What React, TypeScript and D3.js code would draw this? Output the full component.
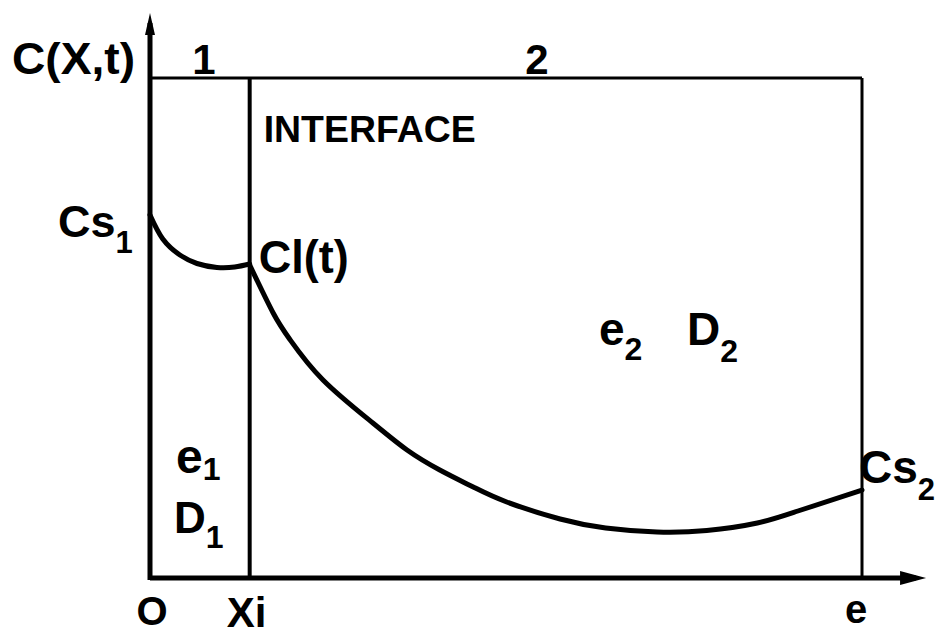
import React from "react";
import * as d3 from "d3";

// diffusion profile C(X,t) across two layers
// x: 0 = O, 100 = e ; y: 0 = axis, 100 = top of box
const X_MAX = 100;
const XI = 14;
const Y_TOP = 100;
const Y_ARROW = 113;
const X_ARROW = 109;

const layer1Profile = [
  [0, 72.6],
  [1.8, 67.8],
  [4.2, 64.6],
  [6.6, 62.9],
  [9.4, 62.1],
  [11.9, 62.2],
  [14, 62.8]
];

const layer2Profile = [
  [14, 62.6],
  [17.3, 53],
  [19.7, 47.6],
  [24.3, 39.6],
  [31.3, 31],
  [36.1, 25.6],
  [40.7, 21.6],
  [45.4, 18.2],
  [50.1, 15.2],
  [57.6, 11.8],
  [64, 10],
  [71.2, 9.2],
  [78.2, 9.5],
  [85.3, 11],
  [91, 13.4],
  [100, 17.6]
];

const layerLabels = ["1", "2"];
const xTickLabels = ["O", "Xi", "e"];

const width = 935;
const height = 638;
const font = "'Liberation Sans', Arial, Helvetica, sans-serif";

const x = d3.scaleLinear().domain([0, X_MAX]).range([150, 862]);
const y = d3.scaleLinear().domain([0, Y_TOP]).range([578, 78]);

const line = d3
  .line<number[]>()
  .x(d => x(d[0]))
  .y(d => y(d[1]))
  .curve(d3.curveNatural);

export default function App() {
  const x0 = x(0);
  const xi = x(XI);
  const xe = x(X_MAX);
  const y0 = y(0);
  const yTop = y(Y_TOP);
  const yTip = y(Y_ARROW);
  const xTip = x(X_ARROW);

  const txt = { fontFamily: font, fontWeight: 700, fill: "#000" } as const;

  return (
    <svg
      width={width}
      height={height}
      style={{ position: "absolute", left: 0, top: 0, background: "#fff" }}
    >
      {/* box */}
      <g stroke="#000" fill="none">
        <line x1={x0} y1={yTop} x2={xe} y2={yTop} strokeWidth={3} />
        <line x1={xe} y1={yTop} x2={xe} y2={y0} strokeWidth={3} />
        <line x1={xi} y1={yTop} x2={xi} y2={y0} strokeWidth={4} />
        <line x1={x0} y1={y0} x2={xTip - 10} y2={y0} strokeWidth={5} />
        <line x1={x0} y1={y0 + 2} x2={x0} y2={yTip + 10} strokeWidth={5} />
      </g>
      {/* arrow heads */}
      <path
        d={`M${x0},${yTip} L${x0 + 5},${yTip + 22} L${x0 - 5},${yTip + 22} Z`}
        fill="#000"
      />
      <path
        d={`M${xTip},${y0} L${xTip - 26},${y0 + 7} L${xTip - 26},${y0 - 7} Z`}
        fill="#000"
      />

      {/* profiles */}
      <path d={line(layer1Profile) || ""} fill="none" stroke="#000" strokeWidth={5} strokeLinecap="round" />
      <path d={line(layer2Profile) || ""} fill="none" stroke="#000" strokeWidth={5} strokeLinecap="round" />

      {/* axis title */}
      <text x={12} y={74} fontSize={44} textLength={123} lengthAdjust="spacingAndGlyphs" {...txt}>
        C(X,t)
      </text>

      {/* layer numbers */}
      <text x={(x0 + xi) / 2 + 4} y={74} fontSize={42} textAnchor="middle" {...txt}>
        {layerLabels[0]}
      </text>
      <text x={537} y={74} fontSize={42} textAnchor="middle" {...txt}>
        {layerLabels[1]}
      </text>

      <text x={xi + 14} y={142} fontSize={37} textLength={212} lengthAdjust="spacingAndGlyphs" {...txt}>
        INTERFACE
      </text>

      {/* Cs1 */}
      <text x={58} y={237} fontSize={45} {...txt}>
        Cs
        <tspan fontSize={31} dy={16}>1</tspan>
      </text>

      {/* Cl(t) */}
      <text x={xi + 9} y={273} fontSize={46} textLength={90} lengthAdjust="spacingAndGlyphs" {...txt}>
        Cl(t)
      </text>

      {/* e2 D2 */}
      <text x={599} y={345} fontSize={46} {...txt}>
        e<tspan fontSize={32} dy={15}>2</tspan>
      </text>
      <text x={687} y={345} fontSize={46} {...txt}>
        D<tspan fontSize={32} dy={17}>2</tspan>
      </text>

      {/* e1 D1 */}
      <text x={176} y={473} fontSize={48} {...txt}>
        e<tspan fontSize={32} dy={7}>1</tspan>
      </text>
      <text x={174} y={533} fontSize={44} {...txt}>
        D<tspan fontSize={32} dy={15}>1</tspan>
      </text>

      {/* Cs2 */}
      <text x={xe - 3} y={483} fontSize={46} {...txt}>
        Cs
        <tspan fontSize={31} dy={17}>2</tspan>
      </text>

      {/* x labels */}
      <text x={x0 + 2} y={625} fontSize={40} textAnchor="middle" {...txt}>
        {xTickLabels[0]}
      </text>
      <text x={xi - 3} y={627} fontSize={42} textAnchor="middle" {...txt}>
        {xTickLabels[1]}
      </text>
      <text x={xe - 6} y={623} fontSize={40} textAnchor="middle" {...txt}>
        {xTickLabels[2]}
      </text>
    </svg>
  );
}
